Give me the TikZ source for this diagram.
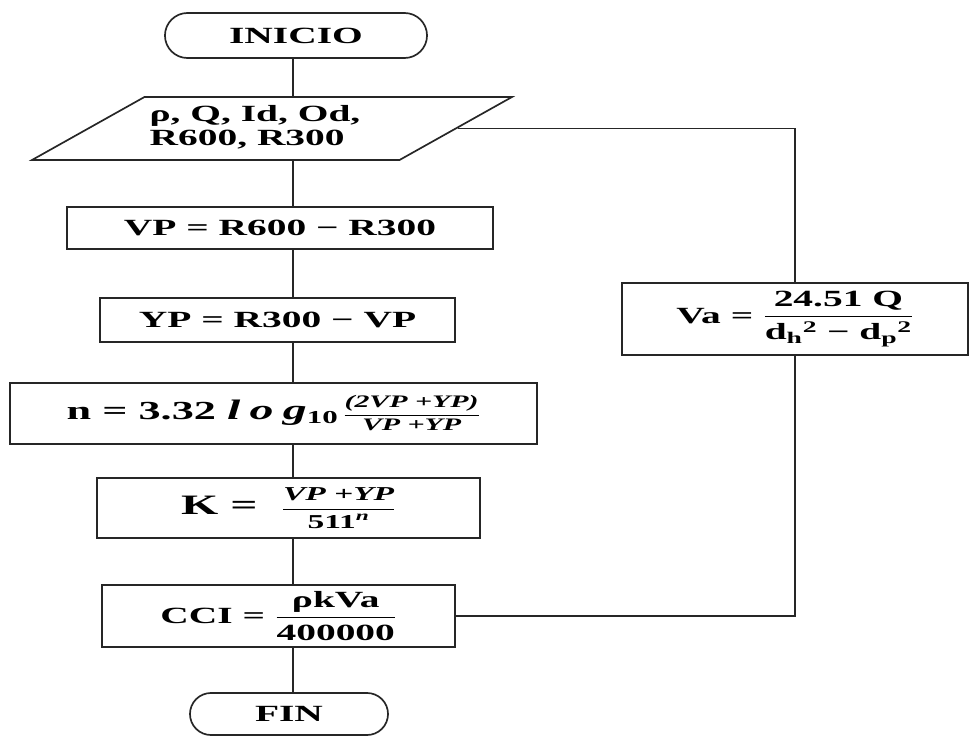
\documentclass[tikz,border=0pt]{standalone}
\usepackage{amsmath}
\usepackage{fontspec}
\setmainfont{Liberation Serif}[FakeStretch=1.7]
\usetikzlibrary{shapes.geometric,shapes.misc}

\begin{document}
\begin{tikzpicture}[x=0.025cm, y=-0.025cm,
    every node/.style={font=\bfseries\fontsize{16.5}{19}\selectfont},
    terminal/.style={rounded rectangle, draw=black!85, line width=1.2pt, inner sep=0pt},
    datos/.style={trapezium, trapezium left angle=33, trapezium right angle=147,
        trapezium stretches=true, draw=black!85, line width=1.2pt, inner sep=0pt},
    proceso/.style={rectangle, draw=black!85, line width=1.2pt, inner sep=0pt},
    linea/.style={line width=1.2pt, draw=black!85}]
    \useasboundingbox (0,0) rectangle (969,736);

    % Nodes
    \node[terminal, minimum width=6.55cm, minimum height=1.125cm] (inicio) at (296,35.5) {INICIO};
    \node[datos, minimum width=12cm, minimum height=1.575cm] (param) at (272,128.5)
        {\hspace*{-0.85cm}\begin{tabular}{@{}l@{}}ρ, Q, Id, Od,\\[-2pt]R600, R300\end{tabular}};
    \node[proceso, minimum width=10.65cm, minimum height=1.05cm] (vp) at (280,228) {VP = R600 − R300};
    \node[proceso, minimum width=8.875cm, minimum height=1.1cm] (yp) at (277.5,320) {YP = R300 − VP};
    \node[proceso, minimum width=13.175cm, minimum height=1.525cm, font=\bfseries\fontsize{18.5}{21}\selectfont] (nbox) at (273.5,413.5)
        {\raisebox{0.12cm}{n = 3.32 \textit{\fontsize{20}{24}\selectfont l\,\,o\,\,g}$_{\text{10}}$\,{\fontsize{12.5}{14}\selectfont$\dfrac{\text{\itshape (2VP +YP)}}{\text{\itshape VP +YP}}$}}};
    \node[proceso, minimum width=9.575cm, minimum height=1.5cm, font=\bfseries\fontsize{20}{24}\selectfont] (kbox) at (288.5,508)
        {K =\ \ {\fontsize{14}{16}\selectfont$\dfrac{\text{\itshape VP +YP}}{\text{511}^{\text{\itshape n}}}$}};
    \node[proceso, minimum width=8.825cm, minimum height=1.55cm] (cci) at (278.5,616)
        {CCI = $\dfrac{\text{ρkVa}}{\text{400000}}$};
    \node[proceso, minimum width=8.65cm, minimum height=1.8cm] (va) at (795,319)
        {Va = $\dfrac{\text{24.51 Q}}{\text{d}_{\text{h}}{}^{\text{2}}\text{ − }\text{d}_{\text{p}}{}^{\text{2}}}$};
    \node[terminal, minimum width=4.95cm, minimum height=1.05cm] (fin) at (289,714) {FIN};
    \coordinate (eje) at (293,0);

    % Edges
    \draw[linea] (eje |- inicio.south) -- (eje |- param.north);
    \draw[linea] (eje |- param.south) -- (eje |- vp.north);
    \draw[linea] (eje |- vp.south) -- (eje |- yp.north);
    \draw[linea] (eje |- yp.south) -- (eje |- nbox.north);
    \draw[linea] (eje |- nbox.south) -- (eje |- kbox.north);
    \draw[linea] (eje |- kbox.south) -- (eje |- cci.north);
    \draw[linea] (eje |- cci.south) -- (eje |- fin.north);
    \draw[linea] (param.east) -| (va.north);
    \draw[linea] (va.south) |- (cci.east);
\end{tikzpicture}
\end{document}
